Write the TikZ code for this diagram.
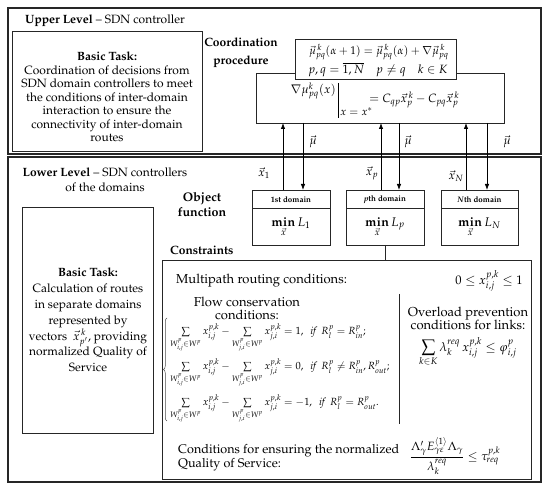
\documentclass[tikz,border=0pt]{standalone}
\usepackage[T1]{fontenc}
\usepackage{mathpazo}
\usepackage{amsmath}
\usetikzlibrary{arrows.meta,decorations.pathreplacing}
\tikzset{
  frame/.style={draw=black!85, line width=1.3pt, outer sep=0pt, inner sep=0pt},
  bx/.style={draw=black!85, line width=0.9pt, outer sep=0pt, inner sep=0pt},
  arr/.style={-{Latex[length=6pt,width=4.5pt]}, line width=0.8pt},
  txt/.style={font=\fontsize{12}{13.5}\selectfont, align=center, inner sep=0pt},
  ctxt/.style={font=\fontsize{13}{13.5}\selectfont, align=center, inner sep=0pt},
  btxt/.style={font=\bfseries\fontsize{12}{15}\selectfont, align=center, inner sep=0pt},
  rowf/.style={font=\fontsize{10.4}{12}\selectfont, inner sep=0pt},
  hdr/.style={font=\bfseries\fontsize{8}{9.5}\selectfont, inner sep=0pt},
  lbl/.style={font=\fontsize{12}{14}\selectfont, inner sep=0pt},
}
\begin{document}
\begin{tikzpicture}[x=1pt,y=-1pt]
\useasboundingbox (0,0) rectangle (550,489);
% outer frames
\node[frame, anchor=north west, minimum width=533pt, minimum height=146pt] (upper) at (8,8) {};
\node[frame, anchor=north west, minimum width=533pt, minimum height=325pt] (lower) at (8,157) {};
% upper level
\node[txt, anchor=west] (utitle) at (25,21) {\textbf{Upper Level} -- SDN controller};
\node[bx, anchor=north west, minimum width=190pt, minimum height=120pt] (utask) at (12,31) {};
\node[txt] (utasktext) at (107,97) {\textbf{Basic Task:}\\Coordination of decisions from\\SDN domain controllers to meet\\the conditions of inter-domain\\interaction to ensure the\\connectivity of inter-domain\\routes};
\node[btxt, font=\bfseries\fontsize{12}{18}\selectfont] (coordlbl) at (241,53) {Coordination\\procedure};
\node[bx, anchor=north west, minimum width=248pt, minimum height=50pt] (coord) at (256,73) {};
\node[lbl, anchor=east] (g1) at (336,91) {$\nabla\mu^{k}_{pq}(x)$};
\draw[line width=0.6pt] (338,83) -- (338,118);
\node[lbl, font=\fontsize{11}{13}\selectfont, anchor=west] (g2) at (340,112) {$x=x^{*}$};
\node[lbl, anchor=west] (g3) at (369,100) {$=C_{qp}\vec{x}^{\,k}_{p}-C_{pq}\vec{x}^{\,k}_{p}$};
\node[bx, fill=white, anchor=north west, minimum width=161pt, minimum height=40pt] (upd) at (295,39) {};
\node[lbl, font=\fontsize{11.2}{13}\selectfont, anchor=west] (upd1) at (309,52) {$\vec{\mu}^{\,k}_{pq}(\alpha+1)=\vec{\mu}^{\,k}_{pq}(\alpha)+\nabla\vec{\mu}^{\,k}_{pq}$};
\node[lbl, anchor=west] (upd2) at (308,70) {$p,q=\overline{1,N}\quad p\neq q\quad k\in K$};
% domain boxes
\node[bx, anchor=north west, minimum width=78pt, minimum height=55pt] (dom1) at (252,190) {};
\node[bx, anchor=north west, minimum width=78pt, minimum height=55pt] (domp) at (346,190) {};
\node[bx, anchor=north west, minimum width=77pt, minimum height=55pt] (domN) at (441,190) {};
\foreach \d in {dom1,domp,domN}{
  \draw[line width=0.9pt, draw=black!85] ([yshift=-18pt]\d.north west) -- ([yshift=-18pt]\d.north east);
}
\node[hdr] (h1) at (291,199.5) {1st domain};
\node[hdr] (hp) at (385,199.5) {\textit{p}th domain};
\node[hdr] (hN) at (479.5,199.5) {\textit{N}th domain};
\node[lbl, font=\fontsize{12.5}{14}\selectfont] (m1) at (291,227) {$\mathop{\mathbf{min}}\limits_{\vec{x}} L_{1}$};
\node[lbl, font=\fontsize{12.5}{14}\selectfont] (mp) at (385,227) {$\mathop{\mathbf{min}}\limits_{\vec{x}} L_{p}$};
\node[lbl, font=\fontsize{12.5}{14}\selectfont] (mN) at (479.5,227) {$\mathop{\mathbf{min}}\limits_{\vec{x}} L_{N}$};
% arrows
\coordinate (u1) at (283,0);
\coordinate (d1) at (303,0);
\coordinate (up) at (381,0);
\coordinate (dp) at (399,0);
\coordinate (uN) at (466,0);
\coordinate (dN) at (487,0);
\draw[arr] (dom1.north -| u1) -- (coord.south -| u1);
\draw[arr] (coord.south -| d1) -- (dom1.north -| d1);
\draw[arr] (domp.north -| up) -- (coord.south -| up);
\draw[arr] (coord.south -| dp) -- (domp.north -| dp);
\draw[arr] (domN.north -| uN) -- (coord.south -| uN);
\draw[arr] (coord.south -| dN) -- (domN.north -| dN);
\node[lbl] (mu1) at (313,142) {$\vec{\mu}$};
\node[lbl] (mup) at (408,142) {$\vec{\mu}$};
\node[lbl] (muN) at (507,142) {$\vec{\mu}$};
\node[lbl] (x1) at (264,173) {$\vec{x}_{1}$};
\node[lbl] (xp) at (372,173) {$\vec{x}_{p}$};
\node[lbl] (xN) at (456,176) {$\vec{x}_{N}$};
% lower level
\node[txt, font=\fontsize{12}{15}\selectfont] (ltitle) at (105,180) {\textbf{Lower Level} -- SDN controllers\\of the domains};
\node[btxt, font=\bfseries\fontsize{12.5}{15}\selectfont] (objlbl) at (202,204.5) {Object\\function};
\node[bx, anchor=north west, minimum width=131pt, minimum height=226pt] (ltask) at (22,207) {};
\node[txt, font=\fontsize{12}{15.8}\selectfont] (ltasktext) at (88,320) {\textbf{Basic Task:}\\Calculation of routes\\in separate domains\\represented by\\vectors~ $\vec{x}^{\,k}_{p'}$, providing\\normalized Quality of\\Service};
\node[btxt, anchor=west] (conslbl) at (170,250) {Constraints};
\node[bx, anchor=north west, minimum width=369pt, minimum height=219pt] (constr) at (162,260) {};
\draw[line width=0.9pt, draw=black!85] (domp.south) -- (constr.north -| domp.south);
% constraints content
\node[ctxt, anchor=west] (mp1) at (176,281) {Multipath routing conditions:};
\node[lbl, font=\fontsize{12.5}{14}\selectfont] (mp2) at (489,281) {$0\le x^{p,k}_{i,j}\le 1$};
\node[ctxt] (fc) at (247,308.5) {Flow conservation\\conditions:};
\draw[line width=0.9pt, draw=black!85] (399,294) -- (399,424);
\node[ctxt] (ov) at (468,318.5) {Overload prevention\\conditions for links:};
\node[lbl, font=\fontsize{12.5}{14}\selectfont] (ovf) at (468,352) {$\displaystyle\sum_{k\in K}\lambda^{req}_{k}\,x^{p,k}_{i,j}\le\varphi^{p}_{i,j}$};
\draw[decorate, decoration={brace, amplitude=3.5pt}, line width=0.5pt, draw=black!70] (167,421) -- (167,318);
\node[rowf, anchor=base west] (r1) at (170,335) {$\sum\limits_{W^{p}_{i,j}\in W^{p}} x^{p,k}_{i,j} - \sum\limits_{W^{p}_{j,i}\in W^{p}} x^{p,k}_{j,i} =1,\ \ \textit{if}\ \ R^{p}_{l}=R^{p}_{in};$};
\node[rowf, anchor=base west] (r2) at (170,370) {$\sum\limits_{W^{p}_{i,j}\in W^{p}} x^{p,k}_{i,j} - \sum\limits_{W^{p}_{j,i}\in W^{p}} x^{p,k}_{j,i} =0,\ \ \textit{if}\ \ R^{p}_{l}\ne R^{p}_{in},R^{p}_{out};$};
\node[rowf, anchor=base west] (r3) at (170,406) {$\sum\limits_{W^{p}_{i,j}\in W^{p}} x^{p,k}_{i,j} - \sum\limits_{W^{p}_{j,i}\in W^{p}} x^{p,k}_{j,i} =-1,\ \ \textit{if}\ \ R^{p}_{l}=R^{p}_{out}.$};
\node[ctxt, font=\fontsize{12.6}{13.5}\selectfont, align=left, anchor=west] (qos) at (178,457.5) {Conditions for ensuring the normalized\\Quality of Service:};
\node[lbl] (qosf) at (455,456) {$\dfrac{\Lambda'_{\gamma}E^{\langle 1\rangle}_{\gamma\varepsilon}\Lambda_{\gamma}}{\lambda^{req}_{k}}\le\tau^{p,k}_{req}$};
\end{tikzpicture}
\end{document}
